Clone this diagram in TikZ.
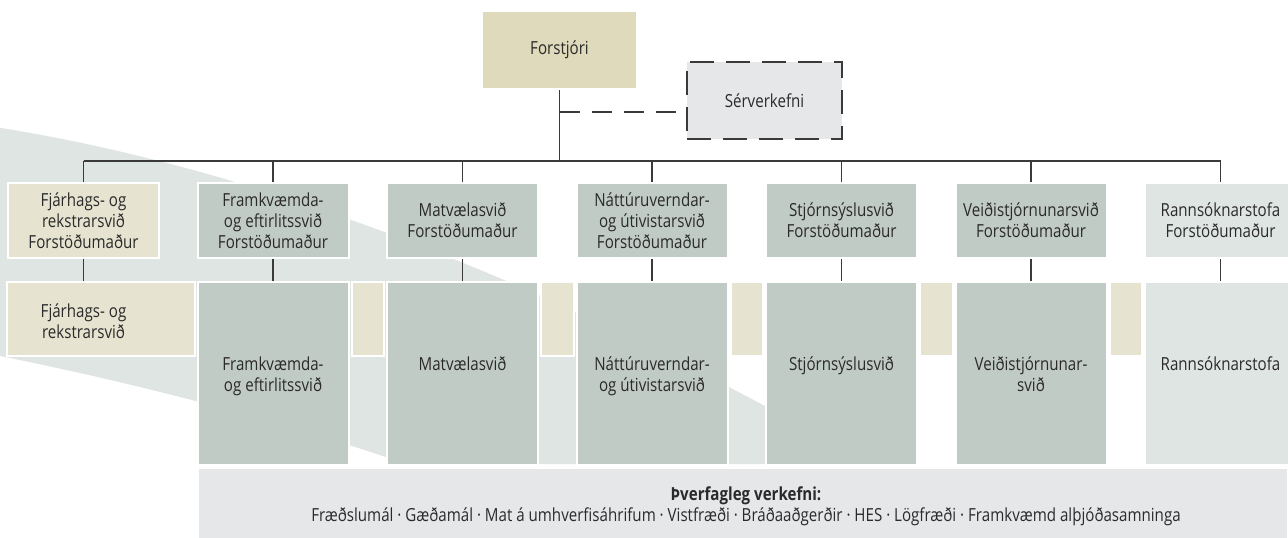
\documentclass[tikz,border=0pt]{standalone}
\usepackage{fontspec}
\setmainfont[FakeStretch=0.84]{Open Sans}
\definecolor{tanD}{HTML}{DEDABB}
\definecolor{tanL}{HTML}{E6E4D0}
\definecolor{grn}{HTML}{C1CBC5}
\definecolor{lgrn}{HTML}{DFE5E2}
\definecolor{barg}{HTML}{E6E7E9}
\definecolor{txt}{HTML}{2A2A2A}
\definecolor{ln}{HTML}{3A3A3A}
\newcommand\fs{\fontsize{9}{10.5}\selectfont}
\begin{document}
\begin{tikzpicture}[x=0.5pt,y=-0.5pt,
  box/.style={rectangle, draw=white, line width=1pt, inner sep=0pt, text=txt, font=\fs, align=center},
  up/.style={box, minimum width=75.5pt, minimum height=37.5pt},
  low/.style={box, minimum width=75.5pt, minimum height=91.5pt},
  gap/.style={box, fill=tanL, minimum width=16.25pt, minimum height=37pt},
  ltxt/.style={inner sep=0pt, text=txt, font=\fs, align=center},
  conn/.style={draw=ln, line width=0.85pt},
  dconn/.style={draw=ln, line width=0.85pt, dash pattern=on 10pt off 6pt}]
\useasboundingbox (0,0) rectangle (1288,537);
% background swoosh
\fill[lgrn] (-5,127) .. controls (300,175) and (600,310) .. (870,464)
  -- (406,464) .. controls (280,420) and (130,382) .. (-5,355) -- cycle;
% top
\node[box, fill=tanD, minimum width=77.5pt, minimum height=39pt] (f) at (559.5,50) {Forstjóri};
\node[rectangle, fill=barg, draw=ln, line width=0.85pt, dash pattern=on 12pt off 6pt,
  inner sep=0pt, text=txt, font=\fs, minimum width=77.5pt, minimum height=38.5pt] (s) at (764.5,100.5) {Sérverkefni};
% upper level
\node[up, fill=tanL] (u1) at (83.5,220.5) {Fjárhags- og\\rekstrarsvið\\Forstöðumaður};
\node[up, fill=grn] (u2) at (273,220.5) {Framkvæmda-\\og eftirlitssvið\\Forstöðumaður};
\node[up, fill=grn] (u3) at (462.5,220.5) {Matvælasvið\\Forstöðumaður};
\node[up, fill=grn] (u4) at (652,220.5) {Náttúruverndar-\\og útivistarsvið\\Forstöðumaður};
\node[up, fill=grn] (u5) at (841.5,220.5) {Stjórnsýslusvið\\Forstöðumaður};
\node[up, fill=grn] (u6) at (1031,220.5) {Veiðistjórnunarsvið\\Forstöðumaður};
\node[up, fill=lgrn] (u7) at (1220.5,220.5) {Rannsóknarstofa\\Forstöðumaður};
% lower level
\node[box, fill=tanL, minimum width=93.75pt, minimum height=37pt] (l1) at (100.75,319) {};
\node[ltxt] (t1) at (83.5,321) {Fjárhags- og\\rekstrarsvið};
\node[low, fill=grn] (l2) at (273,373.5) {};
\node[low, fill=grn] (l3) at (462.5,373.5) {};
\node[low, fill=grn] (l4) at (652,373.5) {};
\node[low, fill=grn] (l5) at (841.5,373.5) {};
\node[low, fill=grn] (l6) at (1031,373.5) {};
\node[low, fill=lgrn] (l7) at (1220.5,373.5) {};
\node[gap] (g2) at (367.75,319) {};
\node[gap] (g3) at (557.25,319) {};
\node[gap] (g4) at (746.75,319) {};
\node[gap] (g5) at (936.25,319) {};
\node[gap] (g6) at (1125.75,319) {};
\node[ltxt, anchor=base] (t2) at (273,391.5) {Framkvæmda-\\og eftirlitssvið};
\node[ltxt, anchor=base] (t3) at (462.5,370.5) {Matvælasvið};
\node[ltxt, anchor=base] (t4) at (652,391.5) {Náttúruverndar-\\og útivistarsvið};
\node[ltxt, anchor=base] (t5) at (841.5,370.5) {Stjórnsýslusvið};
\node[ltxt, anchor=base] (t6) at (1031,391.5) {Veiðistjórnunar-\\svið};
\node[ltxt, anchor=base] (t7) at (1220.5,370.5) {Rannsóknarstofa};
% bottom bar
\node[box, fill=barg, minimum width=545.25pt, minimum height=36pt] (bar) at (742.75,504) {};
\node[ltxt] (bt) at (746,506.5) {\textbf{Þverfagleg verkefni:}\\Fræðslumál · Gæðamál · Mat á umhverfisáhrifum · Vistfræði · Bráðaaðgerðir · HES · Lögfræði · Framkvæmd alþjóðasamninga};
% connectors
\coordinate (bus) at (559.5,161);
\coordinate (dj) at (559.5,112);
\draw[conn] (f.south) -- (bus);
\draw[dconn] (dj) -- (dj -| s.west);
\draw[conn] (bus -| u1.north) -- (bus -| u7.north);
\foreach \i in {1,...,7} {
  \draw[conn] (bus -| u\i.north) -- (u\i.north);
}
\draw[conn] (u1.south) -- (u1.south |- l1.north);
\foreach \i in {2,...,7} {
  \draw[conn] (u\i.south) -- (l\i.north);
}
\end{tikzpicture}
\end{document}
